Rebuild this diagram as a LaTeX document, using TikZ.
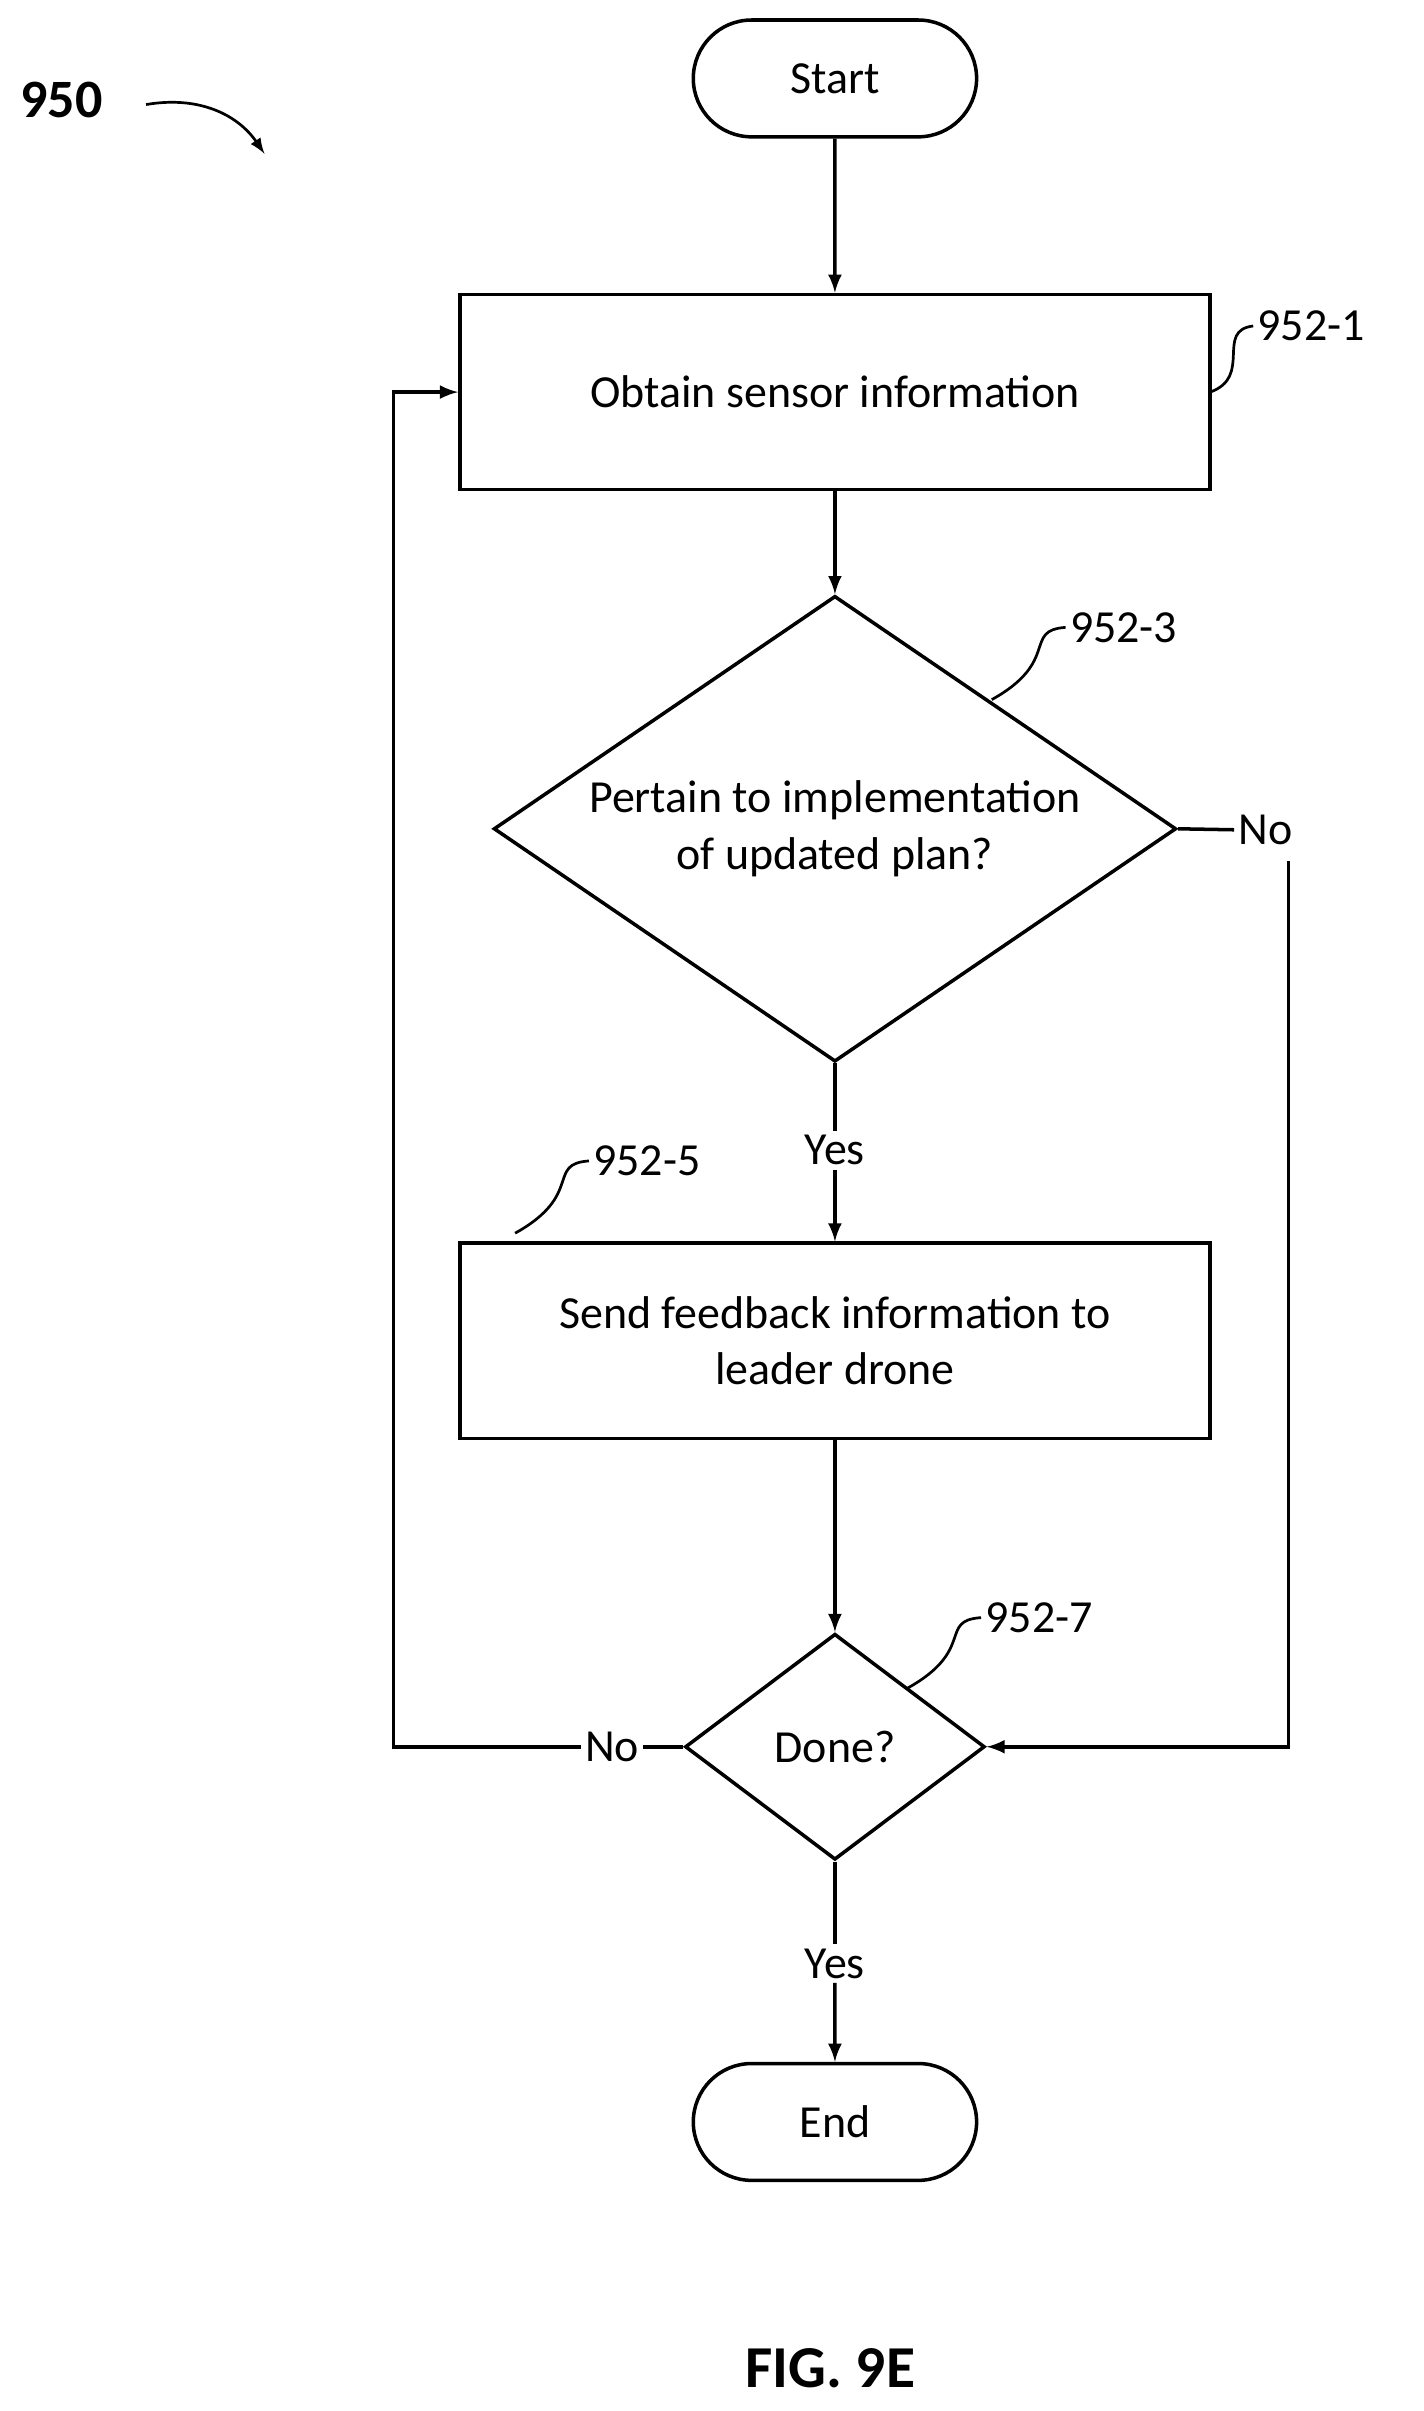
\documentclass[tikz,border=0pt]{standalone}
\usepackage{fontspec}
\setmainfont{Carlito}
\usetikzlibrary{shapes.geometric, shapes.misc}
\begin{document}
\begin{tikzpicture}[x=0.02cm, y=-0.02cm, line width=1.3pt, >=latex,
    every node/.style={font=\fontsize{17}{21}\selectfont},
    term/.style={draw, rounded rectangle, minimum width=3.92cm, minimum height=1.52cm},
    box/.style={draw, rectangle, minimum width=9.76cm, minimum height=2.54cm, align=center},
    dec/.style={draw, diamond, inner sep=0pt, align=center},
    lbl/.style={inner sep=1pt}]
    \useasboundingbox (0,0) rectangle (926,1568);
        \node[term] (S) at (543,51) {Start};
        \node[box] (B1) at (543,255) {Obtain sensor information};
        \node[dec, shape aspect=1.47, minimum width=8.88cm, minimum height=6.06cm] (D1) at (543,539) {Pertain to implementation\\of updated plan?};
        \node[lbl] (Y1) at (543,748) {Yes};
        \node[box] (B2) at (543,872) {Send feedback information to\\leader drone};
        \node[dec, shape aspect=1.33, minimum width=3.9cm, minimum height=2.94cm] (D2) at (543,1136) {Done?};
        \node[lbl] (Y2) at (543,1277) {Yes};
        \node[term] (E) at (543,1380) {End};
        \node[lbl] (N1) at (823,540) {No};
        \node[lbl] (N2) at (398,1136) {No};
        \coordinate (C1) at (838,560);
        \coordinate (C2) at (256,1136);

        \draw[->] (S) -- (B1);
        \draw[->] (B1) -- (D1);
        \draw (D1.south) -- (Y1);
        \draw[->] (Y1) -- (B2);
        \draw[->] (B2) -- (D2);
        \draw (D2.south) -- (Y2);
        \draw[->] (Y2) -- (E);
        \draw (D1.east) -- (N1);
        \draw[->] (C1) |- (D2.east);
        \draw (D2.west) -- (N2);
        \draw[->] (N2.west) -- (C2) |- (B1.west);

        % reference labels
        \node[lbl, anchor=west] (R1) at (815,212) {952-1};
        \node[lbl, anchor=west] (R3) at (693,408) {952-3};
        \node[lbl, anchor=west] (R5) at (383,755) {952-5};
        \node[lbl, anchor=west] (R7) at (638,1052) {952-7};
        \draw[line width=1pt] (787,255) .. controls (815,245) and (790,215) .. (R1.west);
        \draw[line width=1pt] (645,455) .. controls (690,430) and (665,410) .. (R3.west);
        \draw[line width=1pt] (335,802) .. controls (380,777) and (355,757) .. (R5.west);
        \draw[line width=1pt] (590,1098) .. controls (635,1073) and (610,1054) .. (R7.west);

        \node[lbl, font=\fontsize{20}{24}\selectfont\bfseries] (F) at (40,65) {950};
        \draw[->, line width=1pt] (95,68) .. controls (130,62) and (155,75) .. (172,100);
        \node[lbl, font=\fontsize{22}{26}\selectfont\bfseries] (FIG) at (540,1540) {FIG. 9E};
\end{tikzpicture}
\end{document}
